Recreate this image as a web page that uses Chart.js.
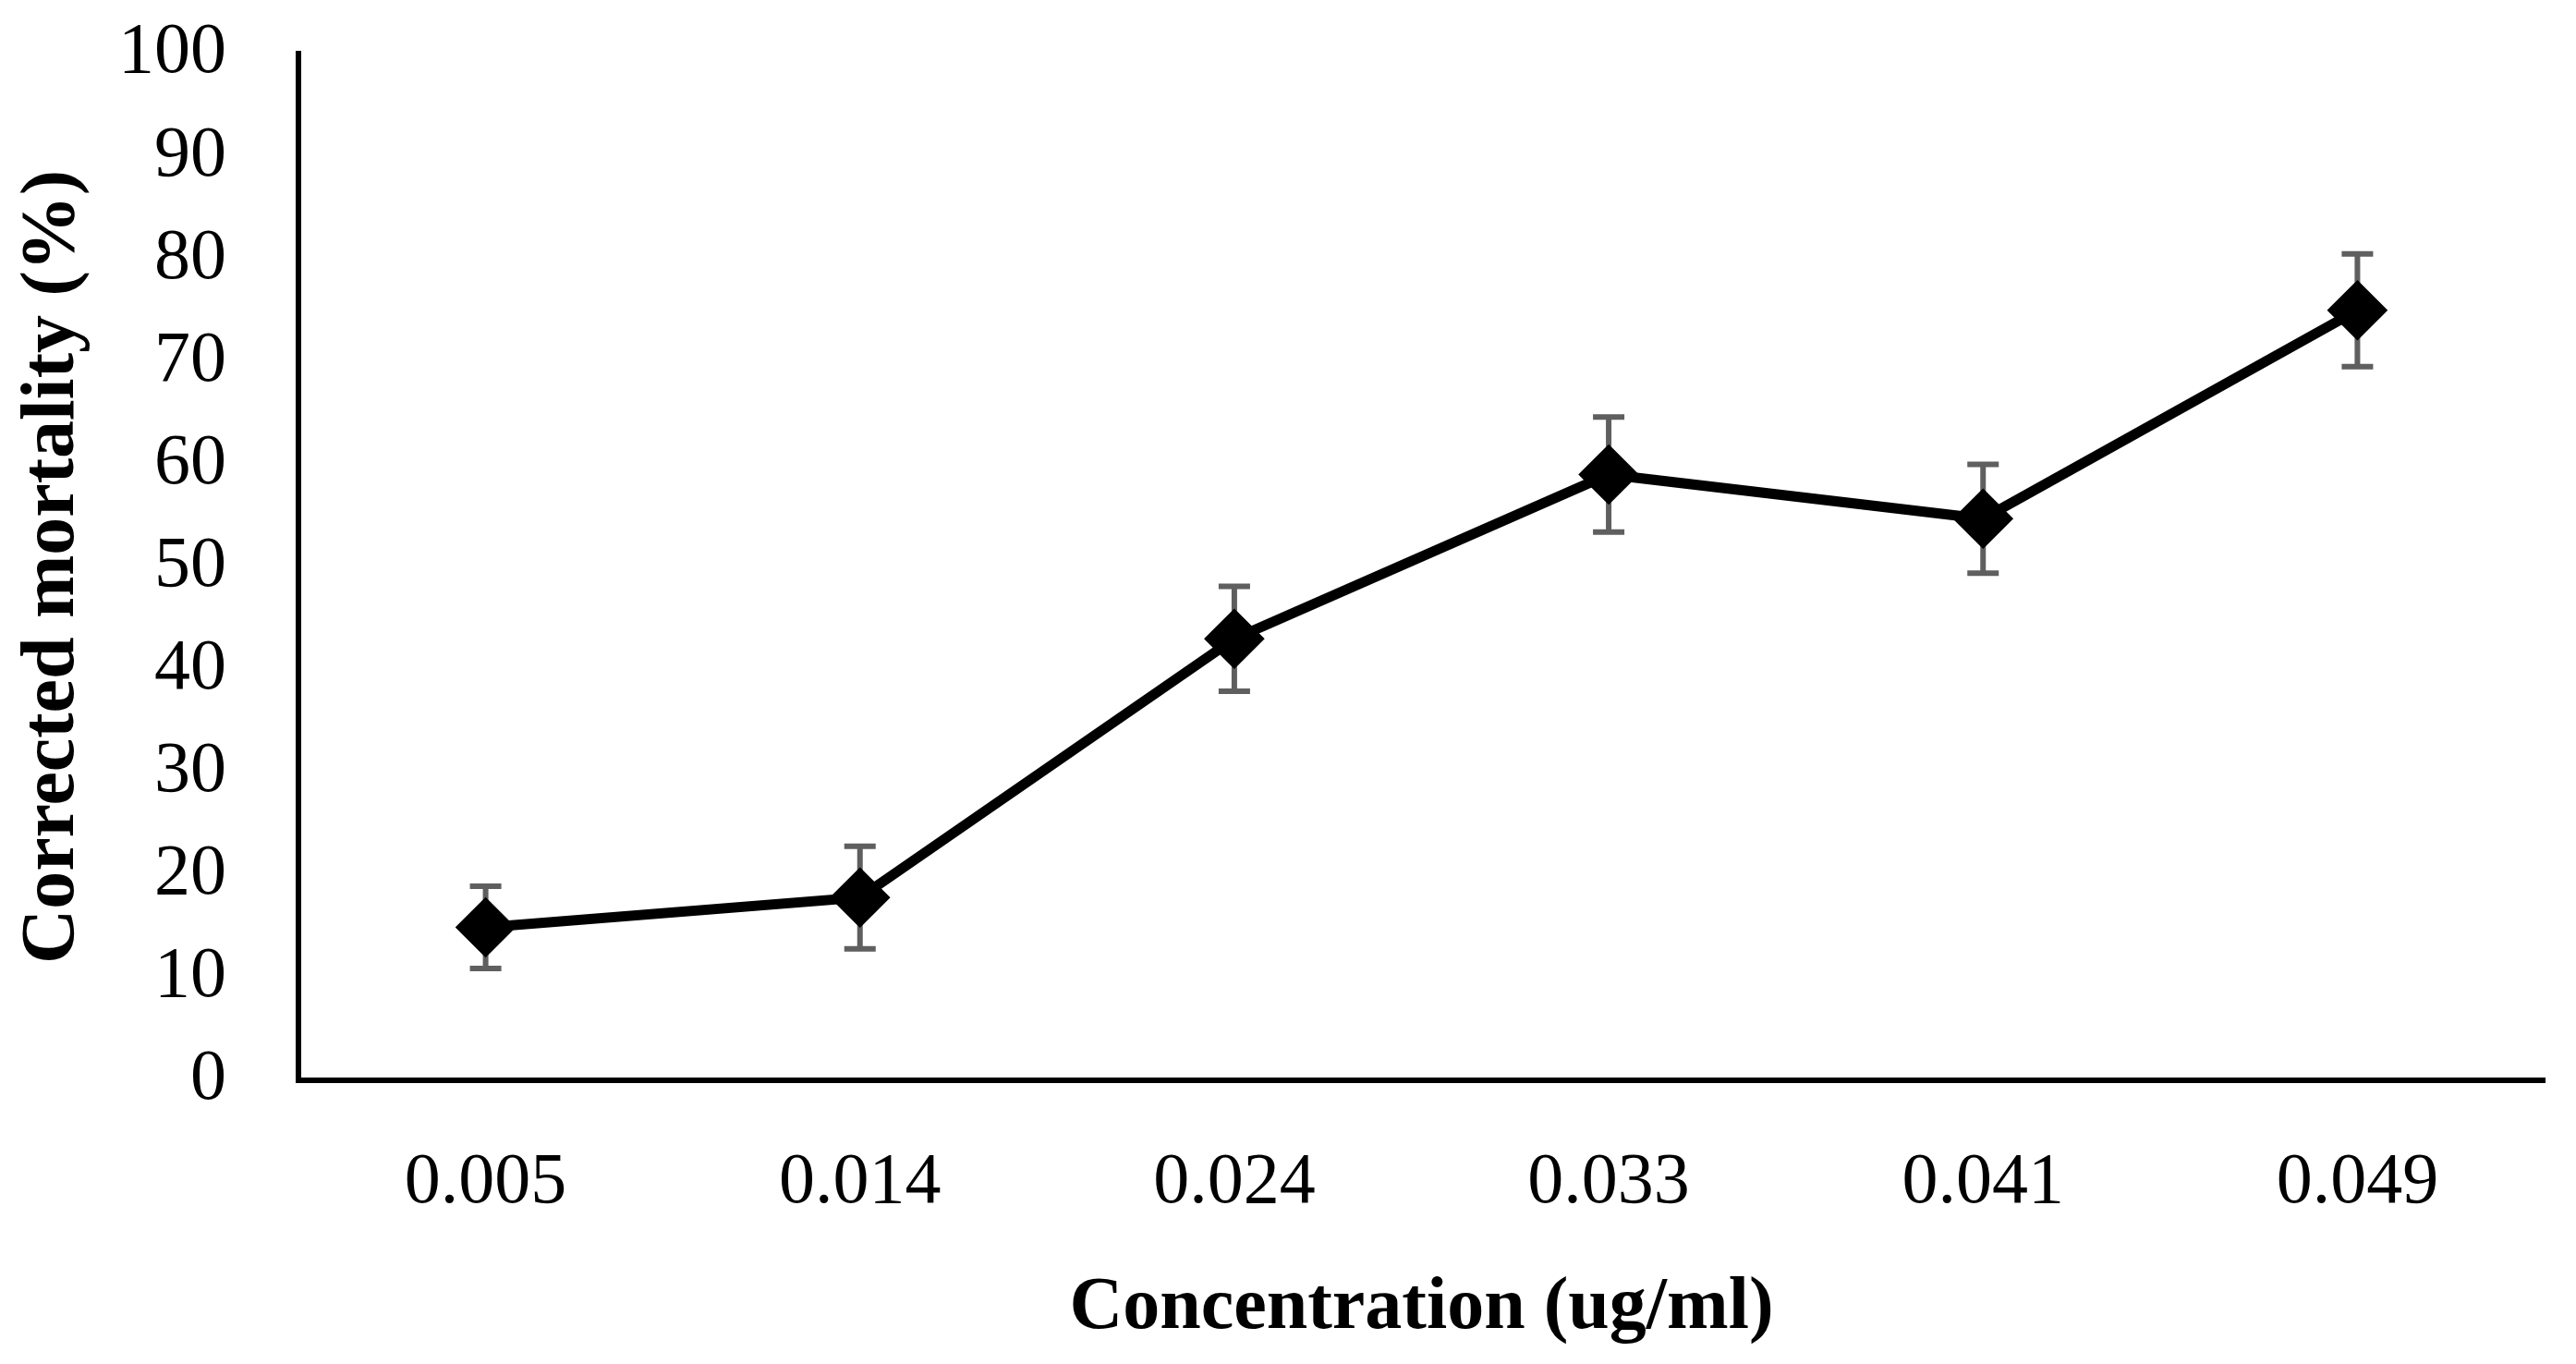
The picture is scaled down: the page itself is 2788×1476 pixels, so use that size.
<!DOCTYPE html>
<html>
<head>
<meta charset="utf-8">
<script src="https://cdn.jsdelivr.net/npm/chart.js@4.4.1/dist/chart.umd.min.js"></script>
<style>
  html, body { margin: 0; padding: 0; background: #fff; }
  #wrap { width: 2788px; height: 1476px; }
</style>
</head>
<body>
<div id="wrap"><canvas id="chart"></canvas></div>
<script>
// values
const concentrations = ['0.005', '0.014', '0.024', '0.033', '0.041', '0.049'];
const mortality = [14.9, 17.8, 43.0, 59.0, 54.7, 75.0];
const mortalityErr = [4.0, 5.0, 5.1, 5.6, 5.3, 5.5];
const yTicks = [0, 10, 20, 30, 40, 50, 60, 70, 80, 90, 100];

const serif = "'Liberation Serif', 'Times New Roman', serif";

// simple error bar plugin, uses the chart's own y scale
const errorBars = {
  id: 'errorBars',
  beforeDatasetsDraw(chart) {
    const ctx = chart.ctx;
    const meta = chart.getDatasetMeta(0);
    const y = chart.scales.y;
    ctx.save();
    ctx.strokeStyle = '#5f5f5f';
    ctx.lineWidth = 6;
    meta.data.forEach((pt, i) => {
      const v = mortality[i], e = mortalityErr[i];
      const top = y.getPixelForValue(v + e);
      const bot = y.getPixelForValue(v - e);
      const cap = 17;
      ctx.beginPath();
      ctx.moveTo(pt.x, top);
      ctx.lineTo(pt.x, bot);
      ctx.moveTo(pt.x - cap, top);
      ctx.lineTo(pt.x + cap, top);
      ctx.moveTo(pt.x - cap, bot);
      ctx.lineTo(pt.x + cap, bot);
      ctx.stroke();
    });
    ctx.restore();
  }
};

new Chart(document.getElementById('chart'), {
  type: 'line',
  data: {
    labels: concentrations,
    datasets: [{
      data: mortality,
      borderColor: '#000',
      borderWidth: 11,
      backgroundColor: '#000',
      pointStyle: 'rectRot',
      pointRadius: 30,
      pointBorderWidth: 4,
      pointBackgroundColor: '#000',
      pointBorderColor: '#000',
      tension: 0
    }]
  },
  options: {
    responsive: true,
    maintainAspectRatio: false,
    animation: false,
    layout: { padding: { top: 58, right: 24, left: 0, bottom: 0 } },
    plugins: {
      legend: { display: false },
      tooltip: { enabled: false }
    },
    scales: {
      x: {
        offset: true,
        grid: { display: false, drawTicks: false },
        border: { display: true, color: '#000', width: 6 },
        ticks: {
          color: '#000',
          padding: 65,
          font: { family: serif, size: 78 }
        },
        title: {
          display: true,
          text: 'Concentration (ug/ml)',
          color: '#000',
          padding: { top: 0, bottom: 12 },
          font: { family: serif, size: 80, weight: 'bold' }
        },
        afterFit(scale) {
          scale.height = 307;
          scale.paddingLeft = 0;
          scale.paddingRight = 0;
        }
      },
      y: {
        min: 0,
        max: 100,
        afterBuildTicks(scale) { scale.ticks = yTicks.map(v => ({ value: v })); },
        grid: { display: false, drawTicks: false },
        border: { display: true, color: '#000', width: 6 },
        ticks: {
          color: '#000',
          padding: 78,
          font: { family: serif, size: 78 }
        },
        title: {
          display: true,
          text: 'Corrected mortality (%)',
          color: '#000',
          padding: { top: 9, bottom: 0 },
          font: { family: serif, size: 82, weight: 'bold' }
        },
        afterFit(scale) {
          scale.width = 323;
          scale.paddingTop = 0;
          scale.paddingBottom = 0;
        }
      }
    }
  },
  plugins: [errorBars]
});
</script>
</body>
</html>
